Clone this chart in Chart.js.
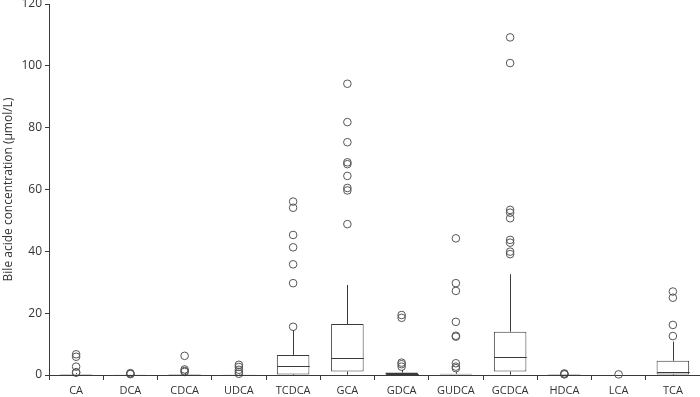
<!DOCTYPE html>
<html>
<head>
<meta charset="utf-8">
<script src="https://cdn.jsdelivr.net/npm/chart.js@4.4.1/dist/chart.umd.min.js"></script>
<style>
    body { margin: 0; background: #fff; }
</style>
</head>
<body>
<canvas id="boxChart" width="700" height="397"></canvas>
<script>
const categories = ['CA', 'DCA', 'CDCA', 'UDCA', 'TCDCA', 'GCA', 'GDCA', 'GUDCA', 'GCDCA', 'HDCA', 'LCA', 'TCA'];
const q1 = [0, 0, 0, 0, 0.2, 1.1, 0, 0, 1.1, 0, 0, 0.2];
const median = [0.1, 0, 0.05, 0, 2.9, 5.4, 0.2, 0.1, 5.7, 0, 0, 1.1];
const q3 = [0.3, 0.05, 0.3, 0.05, 6.5, 16.5, 0.8, 0.4, 14.0, 0.02, 0, 4.6];
const whiskerLow = [0, 0, 0, 0, 0, 0.1, 0, 0, 0.1, 0, 0, 0];
const whiskerHigh = [0.6, 0.1, 0.6, 0.2, 14.5, 29.1, 1.6, 0.9, 32.6, 0, 0, 10.8];
const outliers = [
    [6.7, 5.9, 2.7, 0.9, 0.75],
    [0.6, 0.4, 0.3],
    [6.2, 1.8, 1.3, 1.0],
    [3.3, 2.6, 1.7, 1.0, 0.4],
    [56.1, 54.1, 45.3, 41.3, 35.8, 29.7, 15.6],
    [94.2, 81.8, 75.3, 68.8, 68.2, 64.4, 60.5, 59.7, 48.8],
    [19.4, 18.5, 4.0, 3.5, 2.7],
    [44.2, 29.7, 27.2, 17.2, 12.7, 12.4, 3.8, 2.7, 2.2],
    [109.2, 100.9, 53.4, 52.5, 50.7, 43.7, 42.8, 39.9, 39.1],
    [0.5, 0.3, 0.2],
    [0.2],
    [27, 25, 16.2, 12.6]
];
const yTicks = [0, 20, 40, 60, 80, 100, 120];

const lineColor = '#3a3a3a';

// outlier points as {x: category, y: value}
const outlierPoints = [];
outliers.forEach((vals, i) => {
    vals.forEach(v => outlierPoints.push({ x: categories[i], y: v }));
});

// whiskers and medians drawn on top of the boxes
const whiskerPlugin = {
    id: 'whiskers',
    afterDatasetsDraw(chart) {
        const ctx = chart.ctx;
        const xScale = chart.scales.x;
        const yScale = chart.scales.y;
        const boxes = chart.getDatasetMeta(0).data;
        ctx.save();
        ctx.strokeStyle = lineColor;
        ctx.lineWidth = 1;
        categories.forEach((c, i) => {
            const x = Math.round(xScale.getPixelForValue(i)) + 0.5;
            const w = boxes[i].width;
            ctx.beginPath();
            ctx.moveTo(x, yScale.getPixelForValue(q3[i]));
            ctx.lineTo(x, yScale.getPixelForValue(whiskerHigh[i]));
            ctx.moveTo(x, yScale.getPixelForValue(q1[i]));
            ctx.lineTo(x, yScale.getPixelForValue(whiskerLow[i]));
            if (q3[i] > q1[i]) {
                const my = Math.round(yScale.getPixelForValue(median[i])) + 0.5;
                ctx.moveTo(x - w / 2, my);
                ctx.lineTo(x + w / 2, my);
            }
            ctx.stroke();
        });
        ctx.restore();
    }
};

const ctx = document.getElementById('boxChart').getContext('2d');
new Chart(ctx, {
    data: {
        labels: categories,
        datasets: [{
            type: 'bar',
            data: categories.map((c, i) => [q1[i], q3[i]]),
            backgroundColor: '#ffffff',
            borderColor: lineColor,
            borderWidth: 1,
            borderSkipped: false,
            barPercentage: 0.6,
            categoryPercentage: 1.0,
            clip: false,
            order: 2
        }, {
            type: 'line',
            data: outlierPoints,
            showLine: false,
            pointRadius: 3.8,
            pointBorderWidth: 1,
            pointBorderColor: '#555555',
            pointBackgroundColor: 'rgba(0,0,0,0)',
            clip: false,
            order: 1
        }]
    },
    options: {
        responsive: false,
        animation: false,
        layout: { autoPadding: false, padding: { top: 4, right: 0, left: 1, bottom: 0 } },
        plugins: {
            legend: { display: false },
            tooltip: { enabled: false }
        },
        scales: {
            x: {
                type: 'category',
                offset: true,
                afterFit: s => {
                    s.height = 22;
                    s.paddingLeft = 0;
                    s.paddingRight = 0;
                },
                grid: {
                    display: true,
                    offset: true,
                    drawOnChartArea: false,
                    drawTicks: true,
                    tickLength: 5,
                    color: lineColor
                },
                border: { display: true, color: lineColor, width: 1 },
                ticks: {
                    color: '#333',
                    font: { family: 'Open Sans', size: 11 },
                    maxRotation: 0,
                    autoSkip: false,
                    padding: 4
                }
            },
            y: {
                min: 0,
                max: 120,
                afterBuildTicks: axis => {
                    axis.ticks = yTicks.map(v => ({ value: v }));
                },
                afterFit: s => {
                    s.paddingTop = 0;
                    s.paddingBottom = 0;
                    s.width = 48;
                },
                grid: {
                    display: true,
                    drawOnChartArea: false,
                    drawTicks: true,
                    tickLength: 4,
                    color: lineColor
                },
                border: { display: true, color: lineColor, width: 1 },
                ticks: {
                    color: '#333',
                    font: { family: 'Open Sans', size: 12 },
                    padding: 3
                },
                title: {
                    display: true,
                    text: 'Bile acide concentration (µmol/L)',
                    color: '#333',
                    font: { family: 'Open Sans', size: 12 },
                    padding: { top: 0, bottom: 1 }
                }
            }
        }
    },
    plugins: [whiskerPlugin]
});
</script>
</body>
</html>
